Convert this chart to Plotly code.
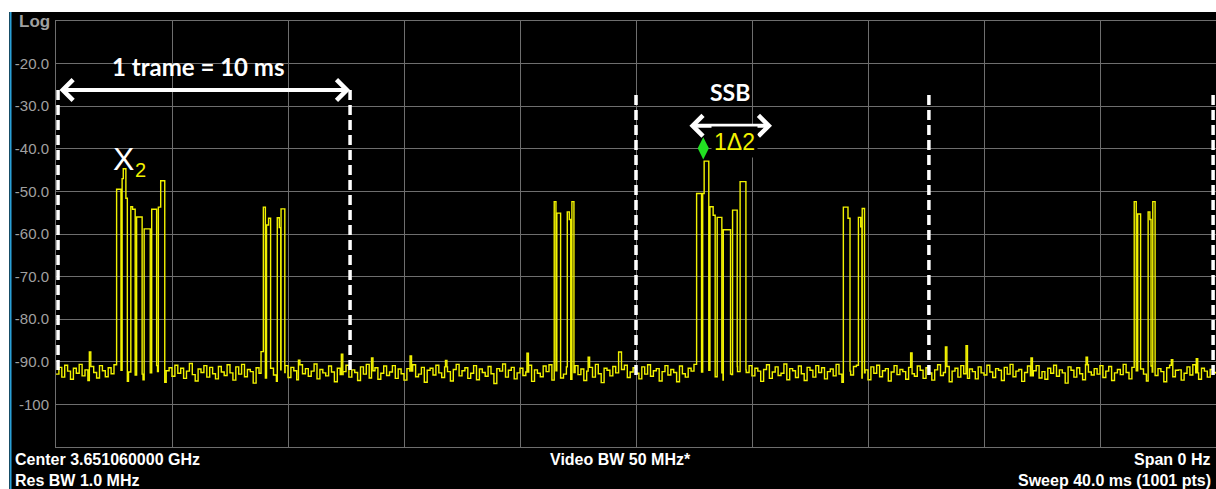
import plotly.graph_objects as go

# ---------------- data ----------------
NOISE_STEP_MS = 0.1
NOISE_DB = [
    -92.9, -91.3, -93.6, -90.8, -92.2, -94.1, -91.5, -92.7, -90.6, -93.3, -91.9, -94.4, -91.1, -92.5, -93.8, -90.9, -92.1, -93.5, -91.4, -92.8,
    -90.7, -93.9, -92.0, -91.2, -94.6, -92.4, -90.5, -93.1, -91.8, -92.9, -94.2, -91.0, -92.6, -93.7, -90.9, -92.3, -91.6, -94.8, -92.1, -91.4,
    -93.4, -90.8, -92.7, -91.5, -93.9, -92.2, -90.4, -93.0, -94.5, -91.7, -92.5, -90.9, -93.6, -91.3, -92.8, -94.0, -91.1, -92.4, -93.2, -90.7,
    -92.6, -94.3, -91.2, -92.9, -90.6, -93.5, -91.8, -92.3, -95.0, -91.4, -92.7, -90.8, -93.8, -92.0, -91.5, -93.1, -94.6, -91.9, -92.5, -90.9,
    -93.7, -91.3, -92.1, -94.2, -90.7, -92.8, -91.6, -93.4, -92.2, -90.5, -94.0, -91.8, -92.6, -93.3, -91.0, -92.4, -94.7, -91.5, -93.0, -92.3,
    -90.8, -93.6, -91.9, -92.5, -94.4, -91.2, -92.9, -90.6, -93.8, -92.1, -91.4, -94.1, -92.7, -91.0, -93.2, -92.4, -90.9, -93.9, -91.7, -92.8,
    -94.3, -91.6, -92.2, -90.7, -93.5, -92.9, -91.3, -94.8, -92.0, -91.5, -93.1, -90.8, -92.6, -93.7, -91.2, -92.3, -94.5, -91.8, -90.6, -93.3,
    -92.1, -91.4, -93.9, -92.7, -90.9, -94.2, -91.7, -92.5, -93.4, -91.1, -92.8, -95.1, -91.6, -92.2, -90.5, -93.6, -92.0, -91.3, -94.0, -92.6,
    -91.5, -93.2, -92.4, -90.8, -94.6, -91.9, -92.7, -93.5, -91.0, -92.3, -90.7, -94.3, -92.1, -91.6, -93.8, -92.9, -91.2, -94.1, -92.5, -90.9,
    -93.0, -91.7, -94.4, -92.2, -91.3, -93.6, -90.6, -92.8, -94.9, -91.5, -92.0, -93.3, -91.1, -92.6, -94.2, -91.8, -90.8, -93.7, -92.4, -91.4,
    -92.7, -94.0, -91.2, -92.9, -90.7, -93.4, -92.1, -91.6, -94.5, -92.3, -90.9, -93.1, -91.8, -92.5, -94.7, -91.0, -92.8, -93.6, -91.5, -92.2,
    -90.6, -93.8, -92.4, -91.3, -94.1, -92.0, -91.7, -93.5, -90.8, -92.6, -94.3, -91.4, -92.9, -93.0, -91.1, -92.3, -95.0, -91.9, -92.5, -90.9,
    -93.3, -91.5, -92.2, -94.6, -91.8, -90.7, -93.9, -92.4, -91.2, -93.2, -92.7, -90.5, -94.2, -91.6, -92.1, -93.7, -91.0, -92.8, -94.4, -91.3,
    -92.0, -93.6, -90.9, -92.5, -91.4, -94.0, -92.3, -91.7, -93.3, -90.6, -92.9, -94.8, -91.5, -92.2, -93.1, -91.1, -90.8, -93.8, -92.6, -91.9,
    -94.2, -91.2, -92.7, -90.8, -93.5, -92.1, -91.6, -94.5, -92.4, -90.9, -93.0, -91.8, -92.3, -94.1, -91.3, -92.8, -93.4, -91.0, -92.0, -93.9,
    -91.4, -92.6, -94.3, -91.9, -90.7, -93.2, -92.5, -91.1, -94.7, -92.2, -91.5, -93.6, -90.9, -92.8, -93.9, -91.7, -92.3, -94.0, -91.2, -92.6,
    -93.1, -90.8, -92.4, -93.7, -91.6, -92.0, -94.4, -91.3, -92.9, -90.6, -93.5, -92.2, -91.8, -94.6, -92.5, -91.0, -93.3, -92.1, -90.9, -93.8,
    -92.3, -94.1, -91.5, -92.7, -90.8, -93.4, -91.9, -92.6, -95.0, -91.2, -92.0, -93.6, -91.4, -92.8, -94.2, -90.7, -92.4, -93.1, -91.6, -92.9,
    -90.9, -93.7, -92.2, -91.1, -94.4, -92.6, -91.8, -93.0, -90.6, -92.5, -94.0, -91.3, -92.1, -93.8, -91.7, -92.9, -94.5, -91.0, -92.4, -93.2,
    -91.6, -92.3, -94.7, -91.4, -90.8, -93.5, -92.0, -91.9, -94.3, -92.7, -91.2, -93.1, -90.7, -92.6, -94.1, -91.5, -92.2, -93.6, -91.8, -92.5,
    -92.8,
]

# bursts (OFDM symbols) : start ms, end ms, level dBm
PULSE_START_MS = [2.09, 2.28, 2.32, 2.41, 2.58, 2.64, 2.78, 3.04, 3.30, 3.53, 3.61,
                  7.15, 7.26, 7.33, 7.63, 7.70, 7.76,
                  17.18, 17.27, 17.63, 17.70, 17.79,
                  22.09, 22.30, 22.35, 22.55, 22.66, 22.80, 23.01, 23.33, 23.59,
                  27.15, 27.31, 27.67, 27.75, 27.80,
                  37.18, 37.30, 37.66, 37.72, 37.82]
PULSE_END_MS = [2.24, 2.32, 2.41, 2.46, 2.64, 2.73, 2.97, 3.25, 3.47, 3.61, 3.75,
                7.22, 7.33, 7.40, 7.70, 7.75, 7.89,
                17.24, 17.40, 17.70, 17.75, 17.86,
                22.26, 22.35, 22.51, 22.66, 22.73, 22.96, 23.26, 23.49, 23.79,
                27.31, 27.38, 27.75, 27.79, 27.88,
                37.25, 37.40, 37.72, 37.76, 37.90]
PULSE_DB = [-49.5, -47.0, -44.7, -51.6, -53.6, -54.2, -56.0, -58.8, -54.2, -53.7, -47.5,
            -53.7, -57.9, -56.3, -56.2, -58.5, -54.1,
            -52.4, -55.1, -54.8, -56.6, -52.4,
            -50.5, -50.5, -42.9, -53.6, -55.6, -56.1, -59.0, -54.4, -47.7,
            -53.7, -56.3, -56.1, -58.3, -54.0,
            -52.4, -55.3, -54.8, -56.6, -52.4]

# isolated noise spikes
SPIKE_START_MS = [1.15, 7.07, 8.36, 9.84, 10.88, 12.21, 13.43, 16.24, 18.35, 19.40,
                  29.47, 30.67, 31.38, 33.62, 35.52, 38.46, 39.32]
SPIKE_END_MS = [1.20, 7.15, 8.41, 9.89, 10.93, 12.26, 13.48, 16.29, 18.40, 19.50,
                29.52, 30.72, 31.43, 33.67, 35.57, 38.51, 39.37]
SPIKE_DB = [-87.7, -87.6, -89.6, -88.2, -89.1, -88.6, -89.7, -88.0, -88.9, -87.7,
            -87.9, -86.5, -86.2, -89.1, -88.9, -89.5, -89.3]

FRAME_MARKS_MS = [0.07, 10.14, 20.0, 30.1, 39.9]
FRAME_TOP_DB = [-26.2, -26.2, -27.4, -27.4, -27.4]
FRAME_BOTTOM_DB = [-92.3, -92.3, -93.6, -93.6, -93.6]

Y_TICKS = [-110, -100, -90, -80, -70, -60, -50, -40, -30, -20, -10]
Y_TICK_TEXT = ["", "-100", "-90.0", "-80.0", "-70.0", "-60.0", "-50.0", "-40.0", "-30.0", "-20.0", ""]

MARKER_MS = 22.32
MARKER_DB = -39.9

# ---------------- build trace ----------------
def level_at(t):
    for s, e, v in zip(PULSE_START_MS, PULSE_END_MS, PULSE_DB):
        if s <= t < e:
            return v
    for s, e, v in zip(SPIKE_START_MS, SPIKE_END_MS, SPIKE_DB):
        if s <= t < e:
            return v
    i = int(t / NOISE_STEP_MS + 1e-9)
    return NOISE_DB[min(i, len(NOISE_DB) - 1)]

times = set(round(i * NOISE_STEP_MS, 4) for i in range(len(NOISE_DB)))
times.update(PULSE_START_MS, PULSE_END_MS, SPIKE_START_MS, SPIKE_END_MS)
times = sorted(times)
levels = [level_at(t) for t in times]

YELLOW = "#f2f200"
GRID = "#6e6e6e"
FONT = "Liberation Sans, Arial, sans-serif"
BOLD_FONT = "Lato, Calibri, sans-serif"

fig = go.Figure()
fig.add_trace(go.Scatter(x=times, y=levels, mode="lines", line=dict(color=YELLOW, width=1.4, shape="hv"),
                         hoverinfo="skip", showlegend=False))
fig.add_trace(go.Scatter(x=[MARKER_MS], y=[MARKER_DB], mode="markers",
                         marker=dict(symbol="diamond-tall", size=16, color="#22e022", line=dict(width=0)),
                         hoverinfo="skip", showlegend=False))

shapes = []
# black instrument background + blue edge
shapes.append(dict(type="rect", xref="paper", yref="paper", x0=-0.0405, x1=1.02, y0=-0.12, y1=1.0211,
                   fillcolor="black", line=dict(width=0), layer="below"))
shapes.append(dict(type="line", xref="paper", yref="paper", x0=-0.0392, x1=-0.0392, y0=-0.12, y1=1.0211,
                   line=dict(color="#2a9fd6", width=2), layer="below"))
for xm, yt, yb in zip(FRAME_MARKS_MS, FRAME_TOP_DB, FRAME_BOTTOM_DB):
    shapes.append(dict(type="line", xref="x", yref="y", x0=xm, x1=xm, y0=yt, y1=yb,
                       line=dict(color="white", width=3.5, dash="10px,5px")))

annotations = []
# 1 trame arrow
annotations.append(dict(x=FRAME_MARKS_MS[1], y=FRAME_TOP_DB[0], ax=FRAME_MARKS_MS[0], ay=FRAME_TOP_DB[0],
                        xref="x", yref="y", axref="x", ayref="y", text="", showarrow=True,
                        arrowhead=4, startarrowhead=4, arrowside="end+start", arrowsize=1, startarrowsize=1,
                        arrowwidth=4, arrowcolor="white"))
annotations.append(dict(x=4.9, y=-20.7, xref="x", yref="y", text="<b>1 trame = 10 ms</b>", showarrow=False,
                        font=dict(family=BOLD_FONT, size=24, color="white")))
# SSB arrow
annotations.append(dict(x=24.69, y=-34.6, ax=21.79, ay=-34.6,
                        xref="x", yref="y", axref="x", ayref="y", text="", showarrow=True,
                        arrowhead=4, startarrowhead=4, arrowside="end+start", arrowsize=1, startarrowsize=1,
                        arrowwidth=4, arrowcolor="white"))
annotations.append(dict(x=23.24, y=-26.7, xref="x", yref="y", text="<b>SSB</b>", showarrow=False,
                        font=dict(family=BOLD_FONT, size=23, color="white")))
annotations.append(dict(x=23.38, y=-38.4, xref="x", yref="y", text="1Δ2", showarrow=False,
                        bgcolor="black", borderpad=2,
                        font=dict(family=FONT, size=23, color=YELLOW)))
# X2 marker
annotations.append(dict(x=2.34, y=-42.4, xref="x", yref="y", text="X", showarrow=False,
                        font=dict(family=FONT, size=32, color="white")))
annotations.append(dict(x=2.9, y=-45.0, xref="x", yref="y", text="2", showarrow=False,
                        font=dict(family=FONT, size=20, color=YELLOW)))
# instrument texts
annotations.append(dict(x=-0.0332, y=1.0, xref="paper", yref="paper", text="<b>Log</b>", showarrow=False,
                        xanchor="left", yanchor="middle", font=dict(family=FONT, size=17, color="#a0a0a0")))
bot = [("Center 3.651060000 GHz", -0.0371, -0.0305, "left"),
       ("Res BW 1.0 MHz", -0.0371, -0.0798, "left"),
       ("Video BW 50 MHz*", 0.487, -0.0305, "center"),
       ("Span 0 Hz", 0.9966, -0.0305, "right"),
       ("Sweep 40.0 ms (1001 pts)", 0.9975, -0.0798, "right")]
for txt, xx, yy, anc in bot:
    annotations.append(dict(x=xx, y=yy, xref="paper", yref="paper", text="<b>" + txt + "</b>", showarrow=False,
                            xanchor=anc, yanchor="middle", font=dict(family=FONT, size=16, color="white")))

fig.update_layout(
    width=1216, height=489,
    margin=dict(l=56, r=0, t=21, b=42, pad=0),
    paper_bgcolor="white",
    plot_bgcolor="black",
    shapes=shapes,
    annotations=annotations,
    xaxis=dict(range=[0, 40], tickmode="linear", tick0=0, dtick=4, showticklabels=False, ticks="",
               showgrid=True, gridcolor=GRID, gridwidth=1, zeroline=False,
               showline=True, linecolor=GRID, linewidth=1, mirror=True),
    yaxis=dict(range=[-110, -10], tickmode="array", tickvals=Y_TICKS, ticktext=Y_TICK_TEXT, ticks="",
               ticklabelstandoff=3,
               tickfont=dict(family=FONT, size=15, color="#a0a0a0"),
               showgrid=True, gridcolor=GRID, gridwidth=1, zeroline=False,
               showline=True, linecolor=GRID, linewidth=1, mirror=True),
)

fig.write_html("out.html")
